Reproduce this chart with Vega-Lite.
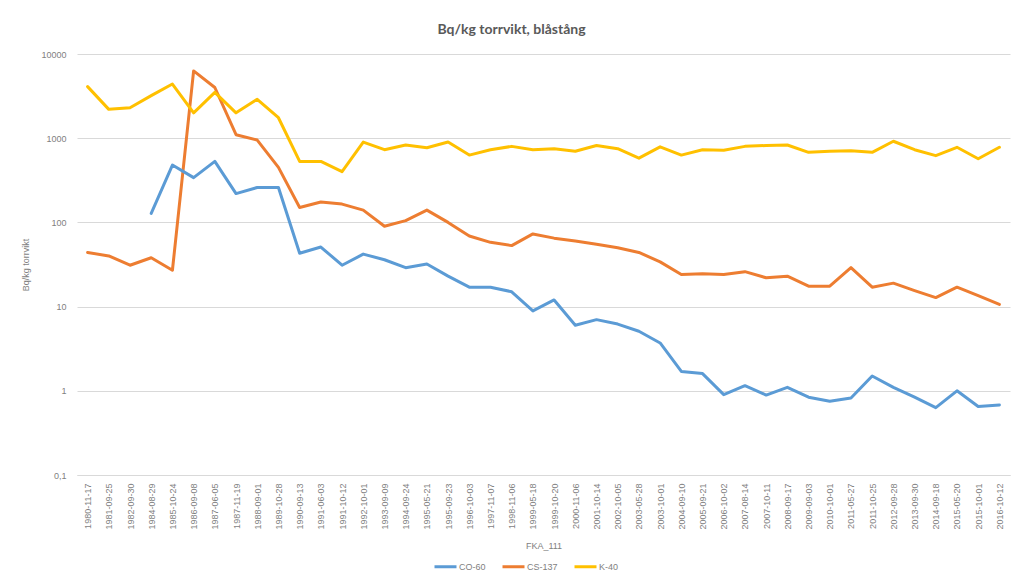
{
  "$schema": "https://vega.github.io/schema/vega-lite/v6.json",
  "autosize": "none",
  "width": 933,
  "height": 421,
  "padding": {"left": 77, "top": 54, "right": 10, "bottom": 100},
  "background": "white",
  "title": {
    "text": "Bq/kg torrvikt, blåstång",
    "font": "Lato",
    "fontSize": 14,
    "fontWeight": "bold",
    "color": "#595959",
    "offset": 13,
    "dx": -32
  },
  "config": {
    "view": {"stroke": null},
    "font": "Liberation Sans"
  },
  "data": {
    "values": [
      {"d": "1980-11-17", "s": "CS-137", "v": 44}, {"d": "1980-11-17", "s": "K-40", "v": 4100},
      {"d": "1981-09-25", "s": "CS-137", "v": 40}, {"d": "1981-09-25", "s": "K-40", "v": 2200},
      {"d": "1982-09-30", "s": "CS-137", "v": 31}, {"d": "1982-09-30", "s": "K-40", "v": 2300},
      {"d": "1984-08-29", "s": "CO-60", "v": 128}, {"d": "1984-08-29", "s": "CS-137", "v": 38}, {"d": "1984-08-29", "s": "K-40", "v": 3200},
      {"d": "1985-10-24", "s": "CO-60", "v": 480}, {"d": "1985-10-24", "s": "CS-137", "v": 27}, {"d": "1985-10-24", "s": "K-40", "v": 4400},
      {"d": "1986-09-08", "s": "CO-60", "v": 340}, {"d": "1986-09-08", "s": "CS-137", "v": 6300}, {"d": "1986-09-08", "s": "K-40", "v": 2000},
      {"d": "1987-06-05", "s": "CO-60", "v": 530}, {"d": "1987-06-05", "s": "CS-137", "v": 4000}, {"d": "1987-06-05", "s": "K-40", "v": 3500},
      {"d": "1987-11-19", "s": "CO-60", "v": 220}, {"d": "1987-11-19", "s": "CS-137", "v": 1100}, {"d": "1987-11-19", "s": "K-40", "v": 2000},
      {"d": "1988-09-01", "s": "CO-60", "v": 260}, {"d": "1988-09-01", "s": "CS-137", "v": 950}, {"d": "1988-09-01", "s": "K-40", "v": 2900},
      {"d": "1989-10-28", "s": "CO-60", "v": 260}, {"d": "1989-10-28", "s": "CS-137", "v": 450}, {"d": "1989-10-28", "s": "K-40", "v": 1750},
      {"d": "1990-09-13", "s": "CO-60", "v": 43}, {"d": "1990-09-13", "s": "CS-137", "v": 150}, {"d": "1990-09-13", "s": "K-40", "v": 530},
      {"d": "1991-06-03", "s": "CO-60", "v": 51}, {"d": "1991-06-03", "s": "CS-137", "v": 175}, {"d": "1991-06-03", "s": "K-40", "v": 530},
      {"d": "1991-10-12", "s": "CO-60", "v": 31}, {"d": "1991-10-12", "s": "CS-137", "v": 165}, {"d": "1991-10-12", "s": "K-40", "v": 400},
      {"d": "1992-10-01", "s": "CO-60", "v": 42}, {"d": "1992-10-01", "s": "CS-137", "v": 140}, {"d": "1992-10-01", "s": "K-40", "v": 900},
      {"d": "1993-09-09", "s": "CO-60", "v": 36}, {"d": "1993-09-09", "s": "CS-137", "v": 90}, {"d": "1993-09-09", "s": "K-40", "v": 730},
      {"d": "1994-09-24", "s": "CO-60", "v": 29}, {"d": "1994-09-24", "s": "CS-137", "v": 105}, {"d": "1994-09-24", "s": "K-40", "v": 830},
      {"d": "1995-05-21", "s": "CO-60", "v": 32}, {"d": "1995-05-21", "s": "CS-137", "v": 140}, {"d": "1995-05-21", "s": "K-40", "v": 770},
      {"d": "1995-09-23", "s": "CO-60", "v": 23}, {"d": "1995-09-23", "s": "CS-137", "v": 100}, {"d": "1995-09-23", "s": "K-40", "v": 900},
      {"d": "1996-10-03", "s": "CO-60", "v": 17}, {"d": "1996-10-03", "s": "CS-137", "v": 69}, {"d": "1996-10-03", "s": "K-40", "v": 630},
      {"d": "1997-11-07", "s": "CO-60", "v": 17}, {"d": "1997-11-07", "s": "CS-137", "v": 58}, {"d": "1997-11-07", "s": "K-40", "v": 730},
      {"d": "1998-11-06", "s": "CO-60", "v": 15}, {"d": "1998-11-06", "s": "CS-137", "v": 53}, {"d": "1998-11-06", "s": "K-40", "v": 800},
      {"d": "1999-05-18", "s": "CO-60", "v": 8.9}, {"d": "1999-05-18", "s": "CS-137", "v": 73}, {"d": "1999-05-18", "s": "K-40", "v": 730},
      {"d": "1999-10-20", "s": "CO-60", "v": 12}, {"d": "1999-10-20", "s": "CS-137", "v": 65}, {"d": "1999-10-20", "s": "K-40", "v": 750},
      {"d": "2000-11-06", "s": "CO-60", "v": 6}, {"d": "2000-11-06", "s": "CS-137", "v": 60}, {"d": "2000-11-06", "s": "K-40", "v": 700},
      {"d": "2001-10-14", "s": "CO-60", "v": 7}, {"d": "2001-10-14", "s": "CS-137", "v": 55}, {"d": "2001-10-14", "s": "K-40", "v": 820},
      {"d": "2002-10-05", "s": "CO-60", "v": 6.2}, {"d": "2002-10-05", "s": "CS-137", "v": 50}, {"d": "2002-10-05", "s": "K-40", "v": 750},
      {"d": "2003-05-28", "s": "CO-60", "v": 5.1}, {"d": "2003-05-28", "s": "CS-137", "v": 44}, {"d": "2003-05-28", "s": "K-40", "v": 580},
      {"d": "2003-10-01", "s": "CO-60", "v": 3.7}, {"d": "2003-10-01", "s": "CS-137", "v": 34}, {"d": "2003-10-01", "s": "K-40", "v": 790},
      {"d": "2004-09-10", "s": "CO-60", "v": 1.7}, {"d": "2004-09-10", "s": "CS-137", "v": 24}, {"d": "2004-09-10", "s": "K-40", "v": 630},
      {"d": "2005-09-21", "s": "CO-60", "v": 1.6}, {"d": "2005-09-21", "s": "CS-137", "v": 24.5}, {"d": "2005-09-21", "s": "K-40", "v": 730},
      {"d": "2006-10-02", "s": "CO-60", "v": 0.9}, {"d": "2006-10-02", "s": "CS-137", "v": 24}, {"d": "2006-10-02", "s": "K-40", "v": 720},
      {"d": "2007-08-14", "s": "CO-60", "v": 1.15}, {"d": "2007-08-14", "s": "CS-137", "v": 26}, {"d": "2007-08-14", "s": "K-40", "v": 800},
      {"d": "2007-10-11", "s": "CO-60", "v": 0.89}, {"d": "2007-10-11", "s": "CS-137", "v": 22}, {"d": "2007-10-11", "s": "K-40", "v": 820},
      {"d": "2008-09-17", "s": "CO-60", "v": 1.1}, {"d": "2008-09-17", "s": "CS-137", "v": 23}, {"d": "2008-09-17", "s": "K-40", "v": 830},
      {"d": "2009-09-03", "s": "CO-60", "v": 0.84}, {"d": "2009-09-03", "s": "CS-137", "v": 17.5}, {"d": "2009-09-03", "s": "K-40", "v": 680},
      {"d": "2010-10-01", "s": "CO-60", "v": 0.75}, {"d": "2010-10-01", "s": "CS-137", "v": 17.5}, {"d": "2010-10-01", "s": "K-40", "v": 700},
      {"d": "2011-05-27", "s": "CO-60", "v": 0.82}, {"d": "2011-05-27", "s": "CS-137", "v": 29}, {"d": "2011-05-27", "s": "K-40", "v": 710},
      {"d": "2011-10-25", "s": "CO-60", "v": 1.5}, {"d": "2011-10-25", "s": "CS-137", "v": 17}, {"d": "2011-10-25", "s": "K-40", "v": 680},
      {"d": "2012-09-28", "s": "CO-60", "v": 1.1}, {"d": "2012-09-28", "s": "CS-137", "v": 19}, {"d": "2012-09-28", "s": "K-40", "v": 920},
      {"d": "2013-09-30", "s": "CO-60", "v": 0.84}, {"d": "2013-09-30", "s": "CS-137", "v": 15.5}, {"d": "2013-09-30", "s": "K-40", "v": 730},
      {"d": "2014-09-18", "s": "CO-60", "v": 0.63}, {"d": "2014-09-18", "s": "CS-137", "v": 12.8}, {"d": "2014-09-18", "s": "K-40", "v": 620},
      {"d": "2015-05-20", "s": "CO-60", "v": 1.0}, {"d": "2015-05-20", "s": "CS-137", "v": 17}, {"d": "2015-05-20", "s": "K-40", "v": 780},
      {"d": "2015-10-01", "s": "CO-60", "v": 0.65}, {"d": "2015-10-01", "s": "CS-137", "v": 13.5}, {"d": "2015-10-01", "s": "K-40", "v": 570},
      {"d": "2016-10-12", "s": "CO-60", "v": 0.68}, {"d": "2016-10-12", "s": "CS-137", "v": 10.6}, {"d": "2016-10-12", "s": "K-40", "v": 780}
    ]
  },
  "mark": {"type": "line", "strokeWidth": 3, "strokeCap": "round", "strokeJoin": "round"},
  "encoding": {
    "x": {
      "field": "d",
      "type": "ordinal",
      "scale": {"type": "point", "padding": 0.5},
      "axis": {
        "title": "FKA_111",
        "titleFont": "Liberation Sans",
        "titleFontSize": 9,
        "titleFontWeight": "normal",
        "titleColor": "#7f7f7f",
        "titlePadding": 12,
        "labelAngle": -90,
        "labelFontSize": 9,
        "labelColor": "#7f7f7f",
        "labelPadding": 8,
        "ticks": false,
        "domainColor": "#d9d9d9",
        "grid": false
      }
    },
    "y": {
      "field": "v",
      "type": "quantitative",
      "scale": {"type": "log", "domain": [0.1, 10000], "nice": false},
      "axis": {
        "title": "Bq/kg torrvikt",
        "titleFont": "Liberation Sans",
        "titleFontSize": 9,
        "titleFontWeight": "normal",
        "titleColor": "#7f7f7f",
        "titlePadding": 10,
        "values": [0.1, 1, 10, 100, 1000, 10000],
        "labelExpr": "datum.value < 1 ? '0,1' : format(datum.value, 'd')",
        "labelFontSize": 9,
        "labelColor": "#7f7f7f",
        "labelPadding": 11,
        "ticks": false,
        "domain": false,
        "gridColor": "#d9d9d9",
        "gridWidth": 1
      }
    },
    "color": {
      "field": "s",
      "type": "nominal",
      "scale": {"domain": ["CO-60", "CS-137", "K-40"], "range": ["#5B9BD5", "#ED7D31", "#FFC000"]},
      "legend": {
        "title": null,
        "orient": "none",
        "legendX": 356,
        "legendY": 500,
        "direction": "horizontal",
        "symbolType": "stroke",
        "symbolStrokeWidth": 3,
        "symbolSize": 484,
        "labelFontSize": 9,
        "labelColor": "#7f7f7f",
        "labelOffset": 1,
        "columnPadding": 10
      }
    }
  }
}
